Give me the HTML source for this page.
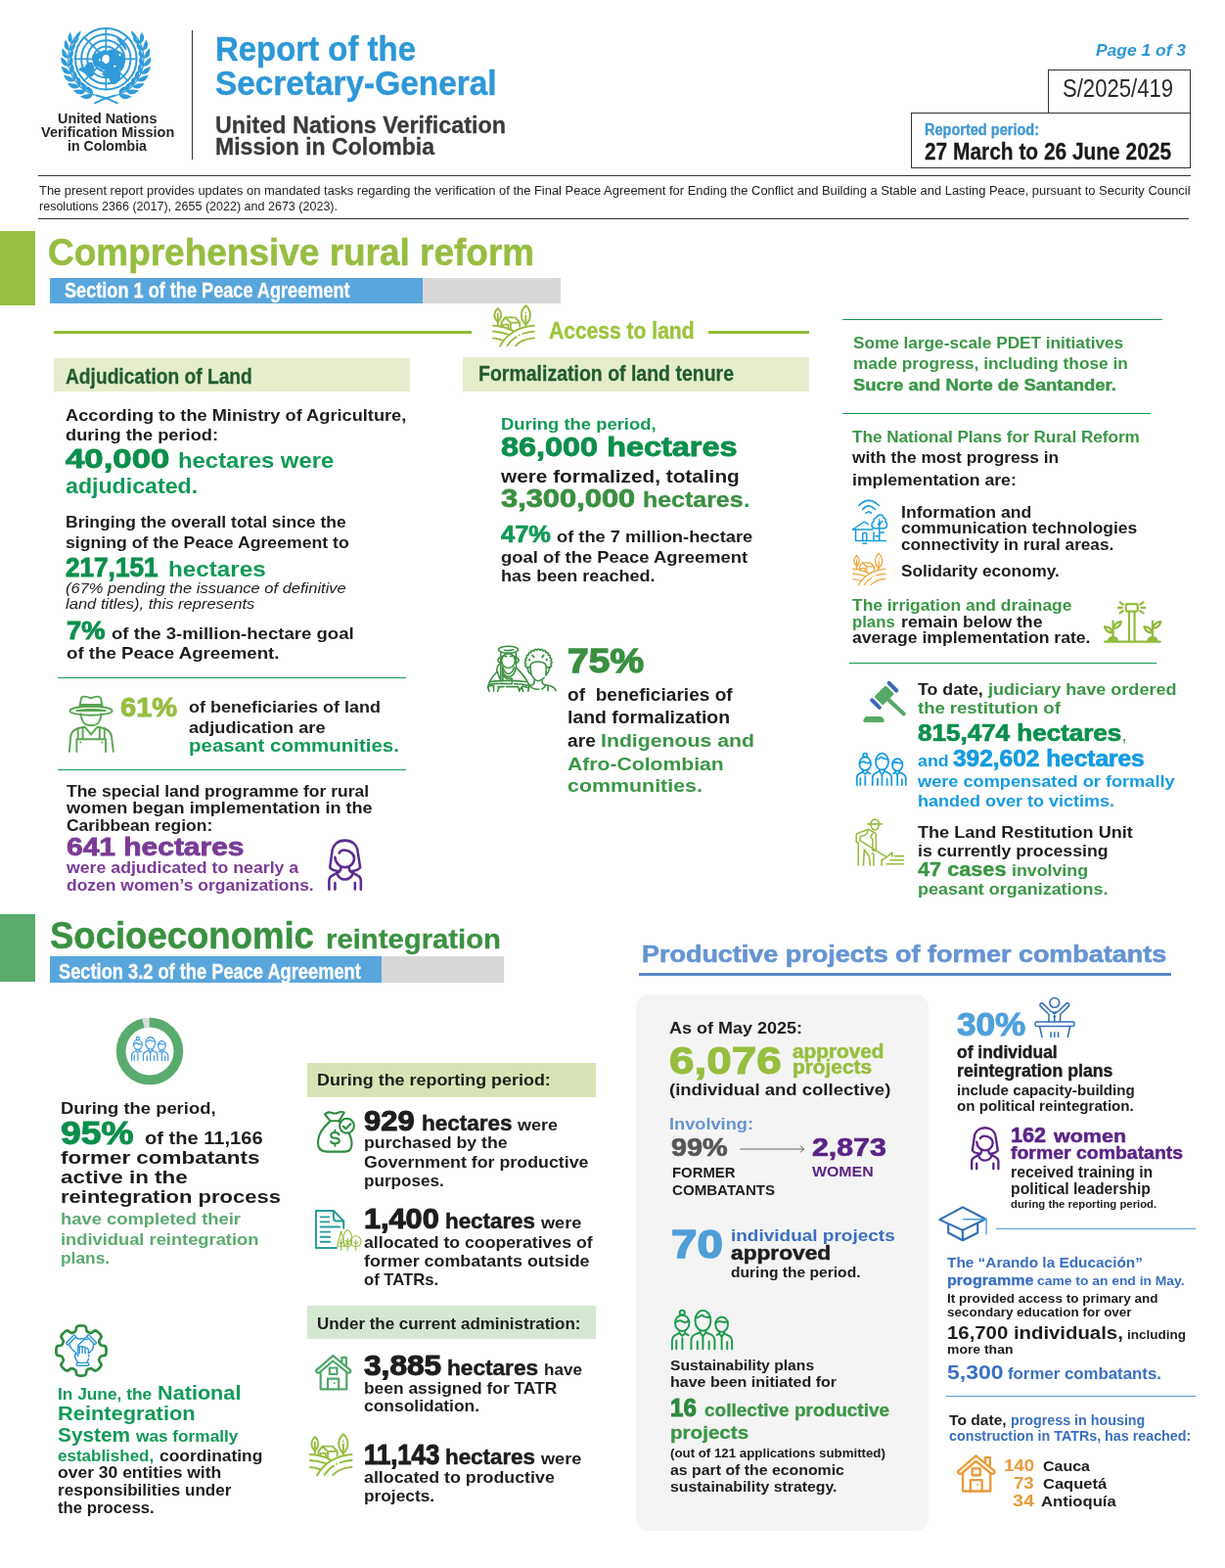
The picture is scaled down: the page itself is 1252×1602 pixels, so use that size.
<!DOCTYPE html>
<html lang="en">
<head>
<meta charset="utf-8">
<title>Report of the Secretary-General - United Nations Verification Mission in Colombia</title>
<style>
html,body{margin:0;padding:0;background:#fff;}
#page{position:relative;width:1252px;height:1602px;overflow:hidden;background:#fff;font-family:"Liberation Sans",sans-serif;}
.t{position:absolute;display:block;white-space:nowrap;line-height:1;transform-origin:0 0;font-weight:700;color:#1d1d1b;margin:0;padding:0;}
.r{position:absolute;display:block;}
.i{position:absolute;display:block;overflow:visible;}
</style>
</head>
<body>
<div id="page">
<section id="header">
<svg class="i" style="left:61px;top:27px;width:96px;height:80px;" viewBox="0 0 96 80"><circle cx="47.3" cy="33.2" r="31.3" fill="none" stroke="#2f9bd9" stroke-width="2"/><circle cx="47.3" cy="33.2" r="25.2" fill="none" stroke="#2f9bd9" stroke-width="2"/><circle cx="47.3" cy="33.2" r="19.0" fill="none" stroke="#2f9bd9" stroke-width="2"/><circle cx="47.3" cy="33.2" r="12.8" fill="none" stroke="#2f9bd9" stroke-width="2"/><circle cx="47.3" cy="33.2" r="6.6" fill="none" stroke="#2f9bd9" stroke-width="2"/><line x1="16.0" y1="33.2" x2="78.6" y2="33.2" stroke="#2f9bd9" stroke-width="1.6"/><line x1="25.2" y1="11.1" x2="69.4" y2="55.3" stroke="#2f9bd9" stroke-width="1.6"/><line x1="47.3" y1="1.9" x2="47.3" y2="64.5" stroke="#2f9bd9" stroke-width="1.6"/><line x1="69.4" y1="11.1" x2="25.2" y2="55.3" stroke="#2f9bd9" stroke-width="1.6"/><path fill="#2f9bd9" d="M33 31 Q34 27 38 27.5 Q39.5 24.5 43 25.5 Q46 23 49 25 Q52 22.5 55.5 24.5 Q59 23 61.5 26 Q66 27 65.5 31.5 Q67.5 35 65 38 Q66 42 62 43.5 Q60 46.5 56.5 45 Q54 47.5 51 45.5 Q47.5 47 45.5 44 Q41.5 44.5 40 41 Q36 40.5 35.5 37 Q32 35 33 31z"/><path fill="#fff" d="M44.5 30.5 Q46 28 48.5 29 Q51 29.5 50.5 32.5 Q51.5 35.5 49 37.5 Q46.5 39 45 36.5 Q42.5 35.5 43.5 33 Q43 31.5 44.5 30.5z"/><path fill="#fff" d="M40 33.5 q1 -0.8 1.8 0.3 q0.4 1.3 -0.8 1.7 q-1.3 -0.3 -1 -2z M55 40 q2 -0.6 3 0.6 q-1 1.2 -3 0.6z M60.5 28.5 q1.2 -1 2 0.4 q0 1.6 -1.3 1.6 q-1 -0.6 -0.7 -2z"/><path fill="#2f9bd9" d="M19.2 43.5 Q22 41 25.5 41.5 Q27 37.5 31 36.5 Q34 36 34.5 39.5 Q36.5 43 35 47 Q35.5 51 32 51.5 Q28.5 51 27 48 Q23.5 47.5 22 45.5 Q19.5 45.5 19.2 43.5z"/><path fill="#2f9bd9" d="M43.5 47.5 Q46.5 44.5 50.5 45 Q54.5 43 58.5 44 Q62.5 46.5 62 51 Q62.5 55.5 59 57.5 Q56 60 53 58.5 Q51 56 50.5 53 Q46.5 52 44.5 50 Q43 49 43.5 47.5z"/><path fill="#2f9bd9" d="M58.5 11.5 Q60.5 10.5 61.5 12.5 Q63.5 15 65.5 17 Q68 20.5 68.5 24 Q66.5 24.5 65.5 22 Q63 19 61 16.5 Q58.5 14 58.5 11.5z"/><path fill="#2f9bd9" d="M62.5 30 q2 1.5 1.6 4 q-1.4 0.6 -2.2 -1 q-0.6 -1.8 0.6 -3z"/><path fill="#2f9bd9" d="M34.10 69.47 Q29.80 77.74 20.80 71.82 Q27.00 68.09 34.10 69.47z"/><path fill="#2f9bd9" d="M60.50 69.47 Q64.80 77.74 73.80 71.82 Q67.60 68.09 60.50 69.47z"/><path fill="#2f9bd9" d="M34.10 69.47 Q34.92 61.37 25.47 61.14 Q28.23 66.92 34.10 69.47z"/><path fill="#2f9bd9" d="M60.50 69.47 Q59.68 61.37 69.13 61.14 Q66.37 66.92 60.50 69.47z"/><path fill="#2f9bd9" d="M26.99 66.02 Q21.18 73.14 13.70 65.62 Q20.42 63.27 26.99 66.02z"/><path fill="#2f9bd9" d="M67.61 66.02 Q73.42 73.14 80.90 65.62 Q74.18 63.27 67.61 66.02z"/><path fill="#2f9bd9" d="M26.99 66.02 Q29.40 58.37 20.34 56.25 Q21.84 62.38 26.99 66.02z"/><path fill="#2f9bd9" d="M67.61 66.02 Q65.20 58.37 74.26 56.25 Q72.76 62.38 67.61 66.02z"/><path fill="#2f9bd9" d="M20.73 61.20 Q13.71 66.90 8.00 58.14 Q14.95 57.23 20.73 61.20z"/><path fill="#2f9bd9" d="M73.87 61.20 Q80.89 66.90 86.60 58.14 Q79.65 57.23 73.87 61.20z"/><path fill="#2f9bd9" d="M20.73 61.20 Q24.59 54.31 16.28 50.45 Q16.49 56.65 20.73 61.20z"/><path fill="#2f9bd9" d="M73.87 61.20 Q70.01 54.31 78.32 50.45 Q78.11 56.65 73.87 61.20z"/><path fill="#2f9bd9" d="M15.58 55.20 Q7.67 59.28 3.92 49.70 Q10.81 50.21 15.58 55.20z"/><path fill="#2f9bd9" d="M79.02 55.20 Q86.93 59.28 90.68 49.70 Q83.79 50.21 79.02 55.20z"/><path fill="#2f9bd9" d="M15.58 55.20 Q20.69 49.33 13.45 43.94 Q12.41 49.97 15.58 55.20z"/><path fill="#2f9bd9" d="M79.02 55.20 Q73.91 49.33 81.15 43.94 Q82.19 49.97 79.02 55.20z"/><path fill="#2f9bd9" d="M11.77 48.28 Q3.33 50.63 1.63 40.65 Q8.17 42.52 11.77 48.28z"/><path fill="#2f9bd9" d="M82.83 48.28 Q91.27 50.63 92.97 40.65 Q86.43 42.52 82.83 48.28z"/><path fill="#2f9bd9" d="M11.77 48.28 Q17.87 43.65 11.97 37.00 Q9.76 42.61 11.77 48.28z"/><path fill="#2f9bd9" d="M82.83 48.28 Q76.73 43.65 82.63 37.00 Q84.84 42.61 82.83 48.28z"/><path fill="#2f9bd9" d="M9.44 40.73 Q0.84 41.30 1.21 31.34 Q7.13 34.46 9.44 40.73z"/><path fill="#2f9bd9" d="M85.16 40.73 Q93.76 41.30 93.39 31.34 Q87.47 34.46 85.16 40.73z"/><path fill="#2f9bd9" d="M9.44 40.73 Q16.24 37.49 11.89 29.90 Q8.65 34.86 9.44 40.73z"/><path fill="#2f9bd9" d="M85.16 40.73 Q78.36 37.49 82.71 29.90 Q85.95 34.86 85.16 40.73z"/><path fill="#2f9bd9" d="M8.70 32.86 Q0.30 31.69 2.65 22.17 Q7.73 26.36 8.70 32.86z"/><path fill="#2f9bd9" d="M85.90 32.86 Q94.30 31.69 91.95 22.17 Q86.87 26.36 85.90 32.86z"/><path fill="#2f9bd9" d="M8.70 32.86 Q15.90 31.10 13.23 22.93 Q9.11 27.05 8.70 32.86z"/><path fill="#2f9bd9" d="M85.90 32.86 Q78.70 31.10 81.37 22.93 Q85.49 27.05 85.90 32.86z"/><path fill="#2f9bd9" d="M9.58 25.01 Q1.72 22.20 5.90 13.50 Q9.94 18.55 9.58 25.01z"/><path fill="#2f9bd9" d="M85.02 25.01 Q92.88 22.20 88.70 13.50 Q84.66 18.55 85.02 25.01z"/><path fill="#2f9bd9" d="M9.58 25.01 Q16.87 24.76 15.93 16.35 Q11.14 19.49 9.58 25.01z"/><path fill="#2f9bd9" d="M85.02 25.01 Q77.73 24.76 78.67 16.35 Q83.46 19.49 85.02 25.01z"/><path fill="#2f9bd9" d="M12.04 17.50 Q5.04 13.22 10.80 5.69 Q13.68 11.35 12.04 17.50z"/><path fill="#2f9bd9" d="M82.56 17.50 Q89.56 13.22 83.80 5.69 Q80.92 11.35 82.56 17.50z"/><path fill="#2f9bd9" d="M12.04 17.50 Q19.10 18.72 19.88 10.43 Q14.64 12.50 12.04 17.50z"/><path fill="#2f9bd9" d="M82.56 17.50 Q75.50 18.72 74.72 10.43 Q79.96 12.50 82.56 17.50z"/><path fill="#2f9bd9" d="M14.57 12.75 Q21.37 12.42 21.64 4.32 Q16.76 7.41 14.57 12.75z"/><path fill="#2f9bd9" d="M80.03 12.75 Q73.23 12.42 72.96 4.32 Q77.84 7.41 80.03 12.75z"/><path fill="none" stroke="#2f9bd9" stroke-width="1.3" d="M36.66 70.30 A38.6 38.6 0 0 1 15.30 11.62"/><path fill="none" stroke="#2f9bd9" stroke-width="1.3" d="M57.94 70.30 A38.6 38.6 0 0 0 79.30 11.62"/><path fill="none" stroke="#2f9bd9" stroke-width="2" stroke-linecap="round" d="M36 78.3 Q46 73 57 70.5"/><path fill="none" stroke="#2f9bd9" stroke-width="2" stroke-linecap="round" d="M58.6 78.3 Q48.6 73 37.6 70.5"/></svg>
<span class="t" style="left:58.8px;top:113px;font-size:15.2px;color:#262626;transform:scaleX(0.9461);">United Nations</span>
<span class="t" style="left:41.5px;top:127px;font-size:15.2px;color:#262626;transform:scaleX(0.9555);">Verification Mission</span>
<span class="t" style="left:68.8px;top:141px;font-size:15.2px;color:#262626;transform:scaleX(0.932);">in Colombia</span>
<div class="r" style="left:196px;top:31px;width:1.2px;height:131.8px;background:#333;"></div>
<span class="t" style="left:220px;top:33px;font-size:34.8px;color:#2e97d7;-webkit-text-stroke:0.4px;transform:scaleX(0.9469);">Report of the</span>
<span class="t" style="left:220px;top:68px;font-size:34.8px;color:#2e97d7;-webkit-text-stroke:0.4px;transform:scaleX(0.9589);">Secretary-General</span>
<span class="t" style="left:220px;top:116px;font-size:24.2px;color:#3a3a3a;-webkit-text-stroke:0.3px;transform:scaleX(0.965);">United Nations Verification</span>
<span class="t" style="left:220px;top:138px;font-size:24.2px;color:#3a3a3a;-webkit-text-stroke:0.3px;transform:scaleX(0.9525);">Mission in Colombia</span>
<span class="t" style="left:1120px;top:43px;font-size:16.5px;color:#2e97d7;font-style:italic;transform:scaleX(1.056);">Page 1 of 3</span>
<div class="r" style="left:1071px;top:71px;width:146px;height:45px;border:1px solid #333;box-sizing:border-box;"></div>
<span class="t" style="left:1086px;top:78px;font-size:25px;color:#2a2a2a;font-weight:400;transform:scaleX(0.8835);">S/2025/419</span>
<div class="r" style="left:931px;top:115px;width:286px;height:57px;border:1px solid #333;box-sizing:border-box;"></div>
<span class="t" style="left:945px;top:125px;font-size:15.6px;color:#3f97d3;-webkit-text-stroke:0.3px;transform:scaleX(0.9313);">Reported period:</span>
<span class="t" style="left:945px;top:143px;font-size:23.8px;color:#1a1a1a;-webkit-text-stroke:0.3px;transform:scaleX(0.878);">27 March to 26 June 2025</span>
<div class="r" style="left:39px;top:179px;width:1178px;height:1px;background:#333;"></div>
<span class="t" style="left:40px;top:189px;font-size:12.3px;color:#222;font-weight:400;transform:scaleX(1.0514);">The present report provides updates on mandated tasks regarding the verification of the Final Peace Agreement for Ending the Conflict and Building a Stable and Lasting Peace, pursuant to Security Council</span>
<span class="t" style="left:40px;top:205px;font-size:12.3px;color:#222;font-weight:400;transform:scaleX(1.0186);">resolutions 2366 (2017), 2655 (2022) and 2673 (2023).</span>
<div class="r" style="left:39px;top:223px;width:1176px;height:1px;background:#333;"></div>
</section>
<section id="rural-reform">
<div class="r" style="left:0px;top:236px;width:36px;height:75.7px;background:#9abf41;"></div>
<span class="t" style="left:49.3px;top:238px;font-size:39.6px;color:#96bd40;-webkit-text-stroke:0.5px;transform:scaleX(0.9341);">Comprehensive rural reform</span>
<div class="r" style="left:51px;top:284px;width:381px;height:25.8px;background:#59a6dc;"></div>
<div class="r" style="left:432px;top:284px;width:141px;height:25.8px;background:#d8d8d8;"></div>
<span class="t" style="left:66.4px;top:287px;font-size:21.5px;color:#fff;-webkit-text-stroke:0.3px;transform:scaleX(0.8435);">Section 1 of the Peace Agreement</span>
<div class="r" style="left:54.6px;top:338px;width:427.3px;height:3px;background:#95bb38;"></div>
<div class="r" style="left:723.5px;top:338px;width:103.5px;height:3px;background:#95bb38;"></div>
<svg class="i" style="left:502.5px;top:311px;width:45px;height:43px;" viewBox="0 0 45 43"><path d="M5.8 4 C2.2 7 0.4 12.6 5.8 18 C11.2 12.6 9.4 7 5.8 4z" fill="none" stroke="#95bb38" stroke-width="1.85" stroke-linecap="round" stroke-linejoin="round" /><path d="M5.8 9.5 V21.5" fill="none" stroke="#95bb38" stroke-width="1.85" stroke-linecap="round" stroke-linejoin="round" /><path d="M34.4 1.2 C29.5 5.5 27.2 13.5 34.4 20.6 C41.6 13.5 39.3 5.5 34.4 1.2z" fill="none" stroke="#95bb38" stroke-width="1.85" stroke-linecap="round" stroke-linejoin="round" /><path d="M34.4 11.3 V21.8" fill="none" stroke="#95bb38" stroke-width="1.85" stroke-linecap="round" stroke-linejoin="round" /><circle cx="34.4" cy="8.4" r="0.95" fill="#95bb38"/><path d="M9.3 18.6 L13.4 13.4 H23.6 L28.3 18.6 H18.6 L13.4 13.4 M9.5 18.6 V22.3 M18.8 18.6 V25.3 M28.3 18.6 V22.8" fill="none" stroke="#95bb38" stroke-width="1.85" stroke-linecap="round" stroke-linejoin="round" /><path d="M11.3 23 V20.6 H16.6 V24.4" fill="none" stroke="#95bb38" stroke-width="1.5725" stroke-linecap="round" stroke-linejoin="round" /><path d="M1 21.7 Q12 22 21.3 27" fill="none" stroke="#95bb38" stroke-width="1.85" stroke-linecap="round" stroke-linejoin="round" /><path d="M43 21.7 Q19 23.5 8 42.6" fill="none" stroke="#95bb38" stroke-width="1.85" stroke-linecap="round" stroke-linejoin="round" /><path d="M1 27.6 Q9 28 16.6 30.8" fill="none" stroke="#95bb38" stroke-width="1.85" stroke-linecap="round" stroke-linejoin="round" /><path d="M1 34.6 Q6.5 35 11.6 37" fill="none" stroke="#95bb38" stroke-width="1.85" stroke-linecap="round" stroke-linejoin="round" /><path d="M31.3 30 Q37 28 43 27.7" fill="none" stroke="#95bb38" stroke-width="1.85" stroke-linecap="round" stroke-linejoin="round" /><path d="M15.5 42.3 Q19 36.5 24.7 33.2" fill="none" stroke="#95bb38" stroke-width="1.85" stroke-linecap="round" stroke-linejoin="round" /><circle cx="27.6" cy="31.4" r="0.95" fill="#95bb38"/><path d="M24 42.3 Q30 35.5 43 34.4" fill="none" stroke="#95bb38" stroke-width="1.85" stroke-linecap="round" stroke-linejoin="round" /></svg>
<span class="t" style="left:560.8px;top:326px;font-size:24px;color:#9cc43c;-webkit-text-stroke:0.4px;transform:scaleX(0.8772);">Access to land</span>
<div class="r" style="left:54.6px;top:366px;width:364.2px;height:33.6px;background:#e6edcd;"></div>
<span class="t" style="left:66.9px;top:374px;font-size:22.3px;color:#215c30;-webkit-text-stroke:0.3px;transform:scaleX(0.8605);">Adjudication of Land</span>
<span class="t" style="left:66.9px;top:416px;font-size:16.5px;transform:scaleX(1.1034);">According to the Ministry of Agriculture,</span>
<span class="t" style="left:66.9px;top:436px;font-size:16.5px;transform:scaleX(1.1052);">during the period:</span>
<span class="t" style="left:66.9px;top:455px;font-size:28px;color:#0b8f4c;-webkit-text-stroke:0.9px;transform:scaleX(1.2424);">40,000</span>
<span class="t" style="left:181.5px;top:460px;font-size:22px;color:#119a55;transform:scaleX(1.0854);">hectares were</span>
<span class="t" style="left:66.9px;top:486px;font-size:22px;color:#119a55;transform:scaleX(1.0525);">adjudicated.</span>
<span class="t" style="left:67.3px;top:525px;font-size:16.5px;transform:scaleX(1.06);">Bringing the overall total since the</span>
<span class="t" style="left:67.3px;top:546px;font-size:16.5px;transform:scaleX(1.0699);">signing of the Peace Agreement to</span>
<span class="t" style="left:67.3px;top:565px;font-size:28.5px;color:#0b8f4c;-webkit-text-stroke:0.9px;transform:scaleX(0.9172);">217,151</span>
<span class="t" style="left:171.8px;top:571px;font-size:22px;color:#119a55;transform:scaleX(1.1004);">hectares</span>
<span class="t" style="left:67.3px;top:594px;font-size:14.6px;font-weight:400;font-style:italic;transform:scaleX(1.129);">(67% pending the issuance of definitive</span>
<span class="t" style="left:67.3px;top:610px;font-size:14.6px;font-weight:400;font-style:italic;transform:scaleX(1.1348);">land titles), this represents</span>
<span class="t" style="left:68.3px;top:631px;font-size:26.5px;color:#0b8f4c;-webkit-text-stroke:0.9px;transform:scaleX(1.031);">7%</span>
<span class="t" style="left:114.3px;top:639px;font-size:16.5px;transform:scaleX(1.1257);">of the 3-million-hectare goal</span>
<span class="t" style="left:68.3px;top:659px;font-size:16.5px;transform:scaleX(1.1331);">of the Peace Agreement.</span>
<div class="r" style="left:59.3px;top:692px;width:355.9px;height:1px;background:#119a50;"></div>
<svg class="i" style="left:70px;top:711px;width:47px;height:58px;" viewBox="0 0 47 58"><path d="M11.5 10.5 L12.7 3.6 Q13.3 0.6 16 0.6 Q19.5 0.6 23 2.3 Q26.5 0.6 30 0.6 Q32.7 0.6 33.3 3.6 L34.6 10.5" fill="none" stroke="#58a650" stroke-width="1.9" stroke-linecap="round" stroke-linejoin="round" /><path d="M12 8.9 H34.1 M11.6 10.6 H34.5" fill="none" stroke="#58a650" stroke-width="1.9" stroke-linecap="round" stroke-linejoin="round" /><ellipse cx="23.05" cy="15.2" rx="21.6" ry="4.5" fill="none" stroke="#58a650" stroke-width="1.9"/><path d="M8.3 15.2 Q23 12.6 38 15.2 L8.3 15.2" fill="none" stroke="#58a650" stroke-width="1.71" stroke-linecap="round" stroke-linejoin="round" /><path d="M12.6 18.2 Q13 23 14.2 25 C17 32 29 32 31.9 25 Q33 23 33.4 18.2" fill="none" stroke="#58a650" stroke-width="1.9" stroke-linecap="round" stroke-linejoin="round" /><path d="M0.9 56.8 L2.2 41.5 C3 35 9 32.5 16.8 31.8 L23.1 39.4 L29.4 31.8 C37 32.5 43.3 35 44 41.5 L45.8 56.8" fill="none" stroke="#58a650" stroke-width="1.9" stroke-linecap="round" stroke-linejoin="round" /><path d="M9.7 33.4 V44.1 M14.6 32.2 V44.1 M31.8 32.2 V44.1 M36.8 33.4 V44.1" fill="none" stroke="#58a650" stroke-width="1.9" stroke-linecap="round" stroke-linejoin="round" /><path d="M8.4 57 V44.2 H38 V57" fill="none" stroke="#58a650" stroke-width="1.9" stroke-linecap="round" stroke-linejoin="round" /><circle cx="12.4" cy="47.2" r="1" fill="#58a650"/><circle cx="34.4" cy="47.4" r="1" fill="#58a650"/></svg>
<span class="t" style="left:123.3px;top:708px;font-size:28.5px;color:#96bd40;-webkit-text-stroke:0.9px;transform:scaleX(1.0202);">61%</span>
<span class="t" style="left:193.4px;top:714px;font-size:16.5px;transform:scaleX(1.09);">of beneficiaries of land</span>
<span class="t" style="left:193.4px;top:735px;font-size:16.5px;transform:scaleX(1.1025);">adjudication are</span>
<span class="t" style="left:193.4px;top:754px;font-size:17.5px;color:#119a55;transform:scaleX(1.1691);">peasant communities.</span>
<div class="r" style="left:59.3px;top:786px;width:355.9px;height:1px;background:#119a50;"></div>
<span class="t" style="left:68.3px;top:800px;font-size:16.2px;transform:scaleX(1.0805);">The special land programme for rural</span>
<span class="t" style="left:68.3px;top:817px;font-size:16.2px;transform:scaleX(1.1179);">women began implementation in the</span>
<span class="t" style="left:68.3px;top:835px;font-size:16.2px;transform:scaleX(1.0771);">Caribbean region:</span>
<span class="t" style="left:68.3px;top:853px;font-size:25.5px;color:#7a3b96;-webkit-text-stroke:0.8px;transform:scaleX(1.1744);">641 hectares</span>
<span class="t" style="left:68.3px;top:878px;font-size:16.5px;color:#7a3b96;transform:scaleX(1.0733);">were adjudicated to nearly a</span>
<span class="t" style="left:68.3px;top:896px;font-size:16.5px;color:#7a3b96;transform:scaleX(1.0588);">dozen women’s organizations.</span>
<svg class="i" style="left:335px;top:857px;width:35.5px;height:53.5px;" viewBox="0 0 36 54"><path d="M12 33.6 Q4 32.6 2.2 29.6 L4.4 14 C5 5.5 11 1.5 17.8 1.5 C24.6 1.5 30.6 5.5 31.2 14 L33.6 29.6 Q31.8 32.6 23.8 33.6" fill="none" stroke="#5b2d90" stroke-width="2.6" stroke-linecap="round" stroke-linejoin="round" /><path d="M11.8 14.6 Q13.5 11.5 17 11.6 C23 11.9 27.4 15.5 27.4 20 C27.4 25.5 23 29.4 17.8 29.4 C12.5 29.4 7.8 25 7.5 18.9" fill="none" stroke="#5b2d90" stroke-width="2.6" stroke-linecap="round" stroke-linejoin="round" /><path d="M13.6 29.6 Q13.6 33 11.5 34.2 L4.5 38 Q1.4 39.5 1.4 43 V52.3" fill="none" stroke="#5b2d90" stroke-width="2.6" stroke-linecap="round" stroke-linejoin="round" /><path d="M22 29.6 Q22 33 24.2 34.2 L31.2 38 Q34.3 39.5 34.3 43 V52.3" fill="none" stroke="#5b2d90" stroke-width="2.6" stroke-linecap="round" stroke-linejoin="round" /><path d="M9.3 35.5 Q12 41.9 17.8 41.9 Q23.6 41.9 26.4 35.5" fill="none" stroke="#5b2d90" stroke-width="2.6" stroke-linecap="round" stroke-linejoin="round" /><path d="M7.5 45.6 V52.2 M28.2 45.6 V52.2" fill="none" stroke="#5b2d90" stroke-width="2.6" stroke-linecap="round" stroke-linejoin="round" /></svg>
<div class="r" style="left:472.9px;top:365.4px;width:354px;height:34.2px;background:#e6edcd;"></div>
<span class="t" style="left:489.3px;top:371px;font-size:21.6px;color:#215c30;-webkit-text-stroke:0.3px;transform:scaleX(0.9027);">Formalization of land tenure</span>
<span class="t" style="left:511.5px;top:425px;font-size:16.5px;color:#119a55;transform:scaleX(1.1162);">During the period,</span>
<span class="t" style="left:511.5px;top:443px;font-size:27.8px;color:#0b8f4c;-webkit-text-stroke:0.9px;transform:scaleX(1.1661);">86,000 hectares</span>
<span class="t" style="left:511.5px;top:478px;font-size:18px;transform:scaleX(1.1552);">were formalized, totaling</span>
<span class="t" style="left:511.5px;top:497px;font-size:25.5px;color:#3a9040;-webkit-text-stroke:0.8px;transform:scaleX(1.2093);">3,300,000</span>
<span class="t" style="left:657.4px;top:501px;font-size:21.5px;color:#3a9040;-webkit-text-stroke:0.3px;transform:scaleX(1.1599);">hectares</span>
<span class="t" style="left:760.3px;top:501px;font-size:21.5px;color:#119a55;">.</span>
<span class="t" style="left:511.5px;top:535px;font-size:23px;color:#119a55;-webkit-text-stroke:0.7px;transform:scaleX(1.1054);">47%</span>
<span class="t" style="left:569.2px;top:540px;font-size:16.5px;transform:scaleX(1.1084);">of the 7 million-hectare</span>
<span class="t" style="left:511.5px;top:561px;font-size:16.5px;transform:scaleX(1.1165);">goal of the Peace Agreement</span>
<span class="t" style="left:511.5px;top:580px;font-size:16.5px;transform:scaleX(1.0946);">has been reached.</span>
<svg class="i" style="left:497.7px;top:660.3px;width:70.4px;height:46.2px;" viewBox="0 0 70 46"><ellipse cx="21.4" cy="3.8" rx="9.9" ry="3.5" fill="none" stroke="#3a9040" stroke-width="1.6"/><path d="M17.5 4.3 Q21.4 5.2 26.5 3.8" fill="none" stroke="#3a9040" stroke-width="1.6" stroke-linecap="round" stroke-linejoin="round" /><ellipse cx="21.4" cy="15" rx="6.9" ry="7.4" fill="none" stroke="#3a9040" stroke-width="1.6"/><path d="M14.5 11.3 Q16 9.6 19.5 10.6 M23.5 10.6 Q27 9.6 28.4 11.3" fill="none" stroke="#3a9040" stroke-width="1.6" stroke-linecap="round" stroke-linejoin="round" /><path d="M14.3 11.5 Q10.2 12.5 11 15.5 Q11.8 17.5 14.5 17 M28.5 11.5 Q32.6 12.5 31.8 15.5 Q31 17.5 28.3 17" fill="none" stroke="#3a9040" stroke-width="1.6" stroke-linecap="round" stroke-linejoin="round" /><path d="M13.7 7 V35.6 M29.3 7 V22 M15.6 21 L15.8 35" fill="none" stroke="#3a9040" stroke-width="1.6" stroke-linecap="round" stroke-linejoin="round" /><path d="M13.5 17.5 Q8 21 10.5 27 Q12 32 14 35.5" fill="none" stroke="#3a9040" stroke-width="1.6" stroke-linecap="round" stroke-linejoin="round" /><path d="M16 22 Q17.5 28 21.6 28.4 Q25.5 28 27 22" fill="none" stroke="#3a9040" stroke-width="1.6" stroke-linecap="round" stroke-linejoin="round" /><path d="M15.5 25.5 Q18 32.5 23.5 31 Q28 29 28.8 22.5" fill="none" stroke="#3a9040" stroke-width="1.6" stroke-linecap="round" stroke-linejoin="round" /><path d="M16.5 30.5 Q20 34.5 25 33" fill="none" stroke="#3a9040" stroke-width="1.6" stroke-linecap="round" stroke-linejoin="round" /><path d="M9.9 26.4 Q2.5 33.5 0.6 41.8 L1.8 46" fill="none" stroke="#3a9040" stroke-width="1.6" stroke-linecap="round" stroke-linejoin="round" /><path d="M29.3 22 Q38 30 42.8 40 L41.5 46" fill="none" stroke="#3a9040" stroke-width="1.6" stroke-linecap="round" stroke-linejoin="round" /><path d="M3.4 36.3 Q21 34.2 39.5 36.3 M1.8 39.2 Q12 37.5 25 38.6 M27.5 38.6 Q35 38.6 41.5 40 M25.2 33.5 V38.6" fill="none" stroke="#3a9040" stroke-width="1.6" stroke-linecap="round" stroke-linejoin="round" /><path d="M0.8 41.8 Q3 40 6 40.5 M11 41.5 H17 M19.5 41.5 H31 M36 41 Q40 41.5 42.5 43" fill="none" stroke="#3a9040" stroke-width="1.6" stroke-linecap="round" stroke-linejoin="round" /><path d="M6.5 40.5 V46 M12 41.5 L10.5 46 M31.5 41.5 L32.5 46 L35 41.5 L36.5 46" fill="none" stroke="#3a9040" stroke-width="1.6" stroke-linecap="round" stroke-linejoin="round" /><path d="M40.32 21.52 Q37.29 20.61 39.50 18.35 Q36.80 16.69 39.52 15.08 Q37.34 12.78 40.38 11.92 Q38.87 9.14 42.04 9.09 Q41.29 6.01 44.36 6.78 Q44.43 3.62 47.20 5.15 Q48.08 2.11 50.36 4.31 Q52.00 1.60 53.64 4.31 Q55.92 2.11 56.80 5.15 Q59.57 3.62 59.64 6.78 Q62.71 6.01 61.96 9.09 Q65.13 9.14 63.62 11.92 Q66.66 12.78 64.48 15.08 Q67.20 16.69 64.50 18.35 Q66.71 20.61 63.68 21.52" fill="none" stroke="#3a9040" stroke-width="1.6" stroke-linecap="round" stroke-linejoin="round" /><path d="M40 21.5 Q42 22.8 43.5 21 Q44.5 17.5 46.5 17 Q51.5 14.8 57 17 Q59 17.5 60 21 Q61.5 22.8 64 21.3" fill="none" stroke="#3a9040" stroke-width="1.6" stroke-linecap="round" stroke-linejoin="round" /><path d="M41 22 Q41.5 27 44 28.5 M63.8 21.5 Q62.5 27 59.5 30" fill="none" stroke="#3a9040" stroke-width="1.6" stroke-linecap="round" stroke-linejoin="round" /><path d="M60 21.5 L59.8 29" fill="none" stroke="#3a9040" stroke-width="1.6" stroke-linecap="round" stroke-linejoin="round" /><path d="M46 9.5 L47.3 11.3 M57.3 9.5 L56 11.3 M42.8 13.6 V14.5 M60.5 13.6 V14.5" fill="none" stroke="#3a9040" stroke-width="1.92" stroke-linecap="round" stroke-linejoin="round" /><path d="M44 21.5 Q43.8 28 46 31 Q49 35.5 52 35.6 Q55 35.5 58 32.2" fill="none" stroke="#3a9040" stroke-width="1.6" stroke-linecap="round" stroke-linejoin="round" /><path d="M47.8 35 Q48 38.8 46 39.6 L42.8 40.2 M55.8 35 Q55.6 38.6 58 39.4 L64 40.5 Q68.2 41.5 69.8 45.3" fill="none" stroke="#3a9040" stroke-width="1.6" stroke-linecap="round" stroke-linejoin="round" /><path d="M43.6 40.5 Q46 44.5 52.5 44 M55.5 43.8 Q58 42.8 59 40.2 M61.8 41 V45.6" fill="none" stroke="#3a9040" stroke-width="1.6" stroke-linecap="round" stroke-linejoin="round" /></svg>
<span class="t" style="left:579.9px;top:657px;font-size:35px;color:#3a9040;-webkit-text-stroke:1.3px;transform:scaleX(1.1147);">75%</span>
<span class="t" style="left:579.9px;top:702px;font-size:17.6px;transform:scaleX(1.0852);">of  beneficiaries of</span>
<span class="t" style="left:579.9px;top:725px;font-size:17.6px;transform:scaleX(1.1033);">land formalization</span>
<span class="t" style="left:579.9px;top:749px;font-size:17.6px;transform:scaleX(1.09);">are</span>
<span class="t" style="left:614.4px;top:748px;font-size:18.8px;color:#3a9645;transform:scaleX(1.1313);">Indigenous and</span>
<span class="t" style="left:579.9px;top:772px;font-size:18.8px;color:#3a9645;transform:scaleX(1.1255);">Afro-Colombian</span>
<span class="t" style="left:579.9px;top:794px;font-size:18.8px;color:#3a9645;transform:scaleX(1.1391);">communities.</span>
<div class="r" style="left:860.7px;top:326px;width:327.1px;height:1px;background:#119a50;"></div>
<span class="t" style="left:872.2px;top:343px;font-size:15.6px;color:#3a9645;transform:scaleX(1.1023);">Some large-scale PDET initiatives</span>
<span class="t" style="left:872.2px;top:364px;font-size:15.6px;color:#3a9645;transform:scaleX(1.1057);">made progress, including those in</span>
<span class="t" style="left:872.2px;top:386px;font-size:16px;color:#3a9645;-webkit-text-stroke:0.4px;transform:scaleX(1.1543);">Sucre and Norte de Santander.</span>
<div class="r" style="left:860.7px;top:422px;width:314.9px;height:1px;background:#119a50;"></div>
<span class="t" style="left:871.3px;top:439px;font-size:15.6px;color:#3a9645;transform:scaleX(1.0973);">The National Plans for Rural Reform</span>
<span class="t" style="left:871.3px;top:460px;font-size:15.6px;transform:scaleX(1.113);">with the most progress in</span>
<span class="t" style="left:871.3px;top:483px;font-size:15.6px;transform:scaleX(1.1325);">implementation are:</span>
<svg class="i" style="left:871.3px;top:510.6px;width:36.5px;height:44.5px;" viewBox="0 0 36.5 44.5"><path d="M6.9 5.3 Q16.9 -4.6 27.2 5.5 M10.7 9.3 Q16.9 2.5 23.4 9.3 M14.4 13.1 Q16.9 10.3 19.3 13.1" fill="none" stroke="#159be0" stroke-width="1.6500000000000001" stroke-linecap="round" stroke-linejoin="round" /><path d="M0.4 30 L12.4 22 L16.4 24.7 M0.4 30 H21" fill="none" stroke="#159be0" stroke-width="1.5" stroke-linecap="round" stroke-linejoin="round" /><path d="M3.5 30 V41.6 H34.2 M22 32.8 V41.6" fill="none" stroke="#159be0" stroke-width="1.5" stroke-linecap="round" stroke-linejoin="round" /><path d="M10.7 41.6 V35.3 A2.05 2.05 0 0 1 14.8 35.3 V41.6 M10.9 44.2 H14.6" fill="none" stroke="#159be0" stroke-width="1.5" stroke-linecap="round" stroke-linejoin="round" /><path d="M27.8 19.8 V41.6 M27.8 25.3 L30.6 21.4 M27.8 25.6 L26.3 24.4 M28.2 33 H32.3 M24 36.8 H27.6" fill="none" stroke="#159be0" stroke-width="1.5" stroke-linecap="round" stroke-linejoin="round" /><path d="M22.5 28.8 Q19.6 28 20 24.8 Q20.2 22.6 22 22 Q21.5 18.6 24.6 18 Q25.8 14.6 28.6 15 Q31.4 14.8 32 18 Q35 19 34 22.2 Q36 23.4 35.4 26 Q35 28.6 32.5 28.8 Z" fill="none" stroke="#159be0" stroke-width="1.5" stroke-linecap="round" stroke-linejoin="round" /></svg>
<span class="t" style="left:920.6px;top:516px;font-size:15.6px;transform:scaleX(1.1313);">Information and</span>
<span class="t" style="left:920.6px;top:532px;font-size:15.6px;transform:scaleX(1.118);">communication technologies</span>
<span class="t" style="left:920.6px;top:549px;font-size:15.6px;transform:scaleX(1.0991);">connectivity in rural areas.</span>
<svg class="i" style="left:871px;top:564px;width:35.5px;height:34.5px;" viewBox="0 0 45 43"><path d="M5.8 4 C2.2 7 0.4 12.6 5.8 18 C11.2 12.6 9.4 7 5.8 4z" fill="none" stroke="#f0a336" stroke-width="1.6" stroke-linecap="round" stroke-linejoin="round" /><path d="M5.8 9.5 V21.5" fill="none" stroke="#f0a336" stroke-width="1.6" stroke-linecap="round" stroke-linejoin="round" /><path d="M34.4 1.2 C29.5 5.5 27.2 13.5 34.4 20.6 C41.6 13.5 39.3 5.5 34.4 1.2z" fill="none" stroke="#f0a336" stroke-width="1.6" stroke-linecap="round" stroke-linejoin="round" /><path d="M34.4 11.3 V21.8" fill="none" stroke="#f0a336" stroke-width="1.6" stroke-linecap="round" stroke-linejoin="round" /><circle cx="34.4" cy="8.4" r="0.95" fill="#f0a336"/><path d="M9.3 18.6 L13.4 13.4 H23.6 L28.3 18.6 H18.6 L13.4 13.4 M9.5 18.6 V22.3 M18.8 18.6 V25.3 M28.3 18.6 V22.8" fill="none" stroke="#f0a336" stroke-width="1.6" stroke-linecap="round" stroke-linejoin="round" /><path d="M11.3 23 V20.6 H16.6 V24.4" fill="none" stroke="#f0a336" stroke-width="1.36" stroke-linecap="round" stroke-linejoin="round" /><path d="M1 21.7 Q12 22 21.3 27" fill="none" stroke="#f0a336" stroke-width="1.6" stroke-linecap="round" stroke-linejoin="round" /><path d="M43 21.7 Q19 23.5 8 42.6" fill="none" stroke="#f0a336" stroke-width="1.6" stroke-linecap="round" stroke-linejoin="round" /><path d="M1 27.6 Q9 28 16.6 30.8" fill="none" stroke="#f0a336" stroke-width="1.6" stroke-linecap="round" stroke-linejoin="round" /><path d="M1 34.6 Q6.5 35 11.6 37" fill="none" stroke="#f0a336" stroke-width="1.6" stroke-linecap="round" stroke-linejoin="round" /><path d="M31.3 30 Q37 28 43 27.7" fill="none" stroke="#f0a336" stroke-width="1.6" stroke-linecap="round" stroke-linejoin="round" /><path d="M15.5 42.3 Q19 36.5 24.7 33.2" fill="none" stroke="#f0a336" stroke-width="1.6" stroke-linecap="round" stroke-linejoin="round" /><circle cx="27.6" cy="31.4" r="0.95" fill="#f0a336"/><path d="M24 42.3 Q30 35.5 43 34.4" fill="none" stroke="#f0a336" stroke-width="1.6" stroke-linecap="round" stroke-linejoin="round" /></svg>
<span class="t" style="left:920.6px;top:576px;font-size:15.6px;transform:scaleX(1.1011);">Solidarity economy.</span>
<span class="t" style="left:871.3px;top:611px;font-size:15.6px;color:#3a9645;transform:scaleX(1.1163);">The irrigation and drainage</span>
<span class="t" style="left:871.3px;top:628px;font-size:15.6px;color:#3a9645;transform:scaleX(1.0728);">plans</span>
<span class="t" style="left:920.6px;top:628px;font-size:15.6px;transform:scaleX(1.1343);">remain below the</span>
<span class="t" style="left:871.3px;top:644px;font-size:15.6px;transform:scaleX(1.1284);">average implementation rate.</span>
<svg class="i" style="left:1128.3px;top:614px;width:59px;height:43.3px;" viewBox="0 0 60 44"><path d="M1 42.3 H58.8" fill="none" stroke="#92bb3c" stroke-width="2.2" stroke-linecap="round" stroke-linejoin="round" /><path d="M26.4 11.3 V42 M32.1 11.3 V42" fill="none" stroke="#92bb3c" stroke-width="2.2" stroke-linecap="round" stroke-linejoin="round" /><rect x="23.1" y="3.1" width="12.2" height="7.7" rx="1.3" fill="none" stroke="#92bb3c" stroke-width="2.2"/><path d="M16.9 1.3 L20.3 3.7 M15.2 7 H19.2 M16.9 12.5 L20.3 10.2 M37.9 3.7 L41.3 1.3 M39.3 7 H43 M37.9 10.2 L41.3 12.5" fill="none" stroke="#92bb3c" stroke-width="2.2" stroke-linecap="round" stroke-linejoin="round" /><path d="M9.7 21 V36.5" fill="none" stroke="#92bb3c" stroke-width="2.2" stroke-linecap="round" stroke-linejoin="round" /><path d="M9.7 28.5 Q12.2 21.5 18.2 21.5 Q16.7 28 9.7 28.5z" fill="none" stroke="#92bb3c" stroke-width="2.2" stroke-linecap="round" stroke-linejoin="round" /><path d="M9.7 33.2 Q7.2 26.5 1.0 26.8 Q2.7 33 9.7 33.2z" fill="none" stroke="#92bb3c" stroke-width="2.2" stroke-linecap="round" stroke-linejoin="round" /><path d="M3.7 42.3 A5.9 5.9 0 0 1 15.7 42.3z" fill="#92bb3c"/><path d="M50.8 21 V36.5" fill="none" stroke="#92bb3c" stroke-width="2.2" stroke-linecap="round" stroke-linejoin="round" /><path d="M50.8 28.5 Q53.3 21.5 59.3 21.5 Q57.8 28 50.8 28.5z" fill="none" stroke="#92bb3c" stroke-width="2.2" stroke-linecap="round" stroke-linejoin="round" /><path d="M50.8 33.2 Q48.3 26.5 42.1 26.8 Q43.8 33 50.8 33.2z" fill="none" stroke="#92bb3c" stroke-width="2.2" stroke-linecap="round" stroke-linejoin="round" /><path d="M44.8 42.3 A5.9 5.9 0 0 1 56.8 42.3z" fill="#92bb3c"/></svg>
<div class="r" style="left:868px;top:677px;width:314.2px;height:1px;background:#119a50;"></div>
<svg class="i" style="left:882px;top:694.5px;width:44.5px;height:43.5px;" viewBox="0 0 44.5 43.5"><path d="M2.5 37.4 Q3 36.9 4 36.9 H17.6 Q18.7 36.9 19.2 37.4 L21.5 40 Q22.3 43 19.8 43 H2.2 Q-0.4 43 0.6 40z" fill="#57a866"/><g transform="translate(21.7 15.4) rotate(-45)"><rect x="-8.3" y="-6.3" width="16.6" height="12.6" rx="1.6" fill="#57a866"/><rect x="-14.3" y="-7.4" width="4" height="14.8" rx="2" fill="#3a68b4"/><rect x="10.3" y="-7.4" width="4" height="14.8" rx="2" fill="#3a68b4"/></g><path d="M25.5 19.2 L41.6 34.2" stroke="#57a866" stroke-width="4.2" stroke-linecap="round" fill="none"/></svg>
<span class="t" style="left:937.7px;top:697px;font-size:15.8px;transform:scaleX(1.1248);">To date,</span>
<span class="t" style="left:1009.5px;top:697px;font-size:15.8px;color:#3a9645;transform:scaleX(1.1419);">judiciary have ordered</span>
<span class="t" style="left:937.7px;top:716px;font-size:15.8px;color:#3a9645;transform:scaleX(1.1701);">the restitution of</span>
<span class="t" style="left:937.7px;top:738px;font-size:23px;color:#0b8f4c;-webkit-text-stroke:0.7px;transform:scaleX(1.1311);">815,474 hectares</span>
<span class="t" style="left:1146.5px;top:742px;font-size:18px;color:#3a9645;font-weight:400;">,</span>
<svg class="i" style="left:875.2px;top:768.6px;width:52px;height:33px;" viewBox="0 0 52 33"><circle cx="9.2" cy="2.6" r="2.1" fill="none" stroke="#159be0" stroke-width="1.75"/><ellipse cx="9.2" cy="11.3" rx="5.9" ry="6.8" fill="none" stroke="#159be0" stroke-width="1.75"/><path d="M4 10.5 Q7 8 9.5 10 Q12 11.5 14.6 9.3" fill="none" stroke="#159be0" stroke-width="1.75" stroke-linecap="round" stroke-linejoin="round" /><path d="M0.7 33 V26 Q0.9 22 5 20.6 L7 19.6 V18 M11.4 18 V19.6 L14.3 21.4 M7 19.8 L9.2 22 L11.4 19.8" fill="none" stroke="#159be0" stroke-width="1.75" stroke-linecap="round" stroke-linejoin="round" /><path d="M4.3 26 V33 M9.3 24 V33" fill="none" stroke="#159be0" stroke-width="1.75" stroke-linecap="round" stroke-linejoin="round" /><ellipse cx="26.5" cy="9.2" rx="6.5" ry="8.5" fill="none" stroke="#159be0" stroke-width="1.75"/><path d="M20.5 7 Q24 6.5 25.5 4.5 Q28 7 32.5 6.5" fill="none" stroke="#159be0" stroke-width="1.75" stroke-linecap="round" stroke-linejoin="round" /><path d="M16.7 33 V25.5 Q17 21.5 21 20.3 L24 19 V17.3 M29 17.3 V19 L32 20.3 Q36 21.5 36.3 25.5 V33" fill="none" stroke="#159be0" stroke-width="1.75" stroke-linecap="round" stroke-linejoin="round" /><path d="M24 19.2 L26.5 22.3 L29 19.2 M26.5 22.3 V33 M21.9 26.5 V33 M31.6 26.5 V33" fill="none" stroke="#159be0" stroke-width="1.75" stroke-linecap="round" stroke-linejoin="round" /><ellipse cx="42.2" cy="12.4" rx="5.2" ry="6.3" fill="none" stroke="#159be0" stroke-width="1.75"/><path d="M37.2 11 Q40 9 42 10.2 Q45 11 47.2 10" fill="none" stroke="#159be0" stroke-width="1.75" stroke-linecap="round" stroke-linejoin="round" /><path d="M40.2 18.4 V20 L38.2 21.3 M44.2 18.4 V20 L47.5 21.5 Q50.7 22.8 50.8 26.5 V33 M40.2 20.2 L42.2 22.5 L44.2 20.2" fill="none" stroke="#159be0" stroke-width="1.75" stroke-linecap="round" stroke-linejoin="round" /><path d="M42.2 22.5 V33 M46.8 27 V33" fill="none" stroke="#159be0" stroke-width="1.75" stroke-linecap="round" stroke-linejoin="round" /></svg>
<span class="t" style="left:937.7px;top:769px;font-size:16.5px;color:#159be0;transform:scaleX(1.0769);">and</span>
<span class="t" style="left:974.3px;top:764px;font-size:23px;color:#159be0;-webkit-text-stroke:0.7px;transform:scaleX(1.0627);">392,602 hectares</span>
<span class="t" style="left:937.7px;top:791px;font-size:15.8px;color:#159be0;transform:scaleX(1.1504);">were compensated or formally</span>
<span class="t" style="left:937.7px;top:811px;font-size:15.8px;color:#159be0;transform:scaleX(1.1397);">handed over to victims.</span>
<svg class="i" style="left:875.2px;top:836.7px;width:48.7px;height:47.7px;" viewBox="0 0 48.7 47.7"><path d="M12 4.85 H26.3 M15 4.85 A4.2 4.75 0 0 1 23.4 4.85" fill="none" stroke="#96bd40" stroke-width="1.6" stroke-linecap="round" stroke-linejoin="round" /><path d="M15 4.85 A4.2 6.2 0 0 0 23.4 4.85" fill="none" stroke="#96bd40" stroke-width="1.6" stroke-linecap="round" stroke-linejoin="round" /><path d="M12.5 10.3 L1.2 14.6 Q0.2 15 0.2 16.2 V22.4 Q0.3 24 2 24.4" fill="none" stroke="#96bd40" stroke-width="1.6" stroke-linecap="round" stroke-linejoin="round" /><path d="M11.9 10.9 Q11.6 14.8 9.6 15.9 L4.9 17.5 Q4 17.9 4 19 L3.9 22.3" fill="none" stroke="#96bd40" stroke-width="1.6" stroke-linecap="round" stroke-linejoin="round" /><path d="M13.2 10.6 L19.6 14.2 Q20.4 14.7 20.4 15.8 V31.3 Q18.6 33.4 16.8 31.2 V20.2 L14.8 18.25 L16.8 14.7" fill="none" stroke="#96bd40" stroke-width="1.6" stroke-linecap="round" stroke-linejoin="round" /><path d="M4.6 22.1 L31.1 38.7 M31.1 38.7 L36.8 34.1 V37.7 M31.1 38.7 L26.6 41.5 Q26 41.9 26 42.8 V46.9" fill="none" stroke="#96bd40" stroke-width="1.6" stroke-linecap="round" stroke-linejoin="round" /><path d="M2.25 24.4 V46.9 M8.4 31 L7.4 46.9 M8.4 31 L13 37.5 Q13.4 38.2 13.5 39 L14.3 46.9 M16.3 34.9 Q17.9 35 17.9 36.5 V46.9" fill="none" stroke="#96bd40" stroke-width="1.6" stroke-linecap="round" stroke-linejoin="round" /><path d="M39.3 37.6 H48.5 M35.2 41.7 H48.5 M31.1 45.8 H48.5" fill="none" stroke="#96bd40" stroke-width="1.6" stroke-linecap="round" stroke-linejoin="round" /></svg>
<span class="t" style="left:937.7px;top:843px;font-size:16px;transform:scaleX(1.1292);">The Land Restitution Unit</span>
<span class="t" style="left:937.7px;top:862px;font-size:16px;transform:scaleX(1.1047);">is currently processing</span>
<span class="t" style="left:937.7px;top:879px;font-size:19.5px;color:#3a9645;-webkit-text-stroke:0.4px;transform:scaleX(1.1126);">47 cases</span>
<span class="t" style="left:1033.5px;top:881px;font-size:16.5px;color:#3a9645;transform:scaleX(1.077);">involving</span>
<span class="t" style="left:937.7px;top:900px;font-size:16.5px;color:#3a9645;transform:scaleX(1.0878);">peasant organizations.</span>
</section>
<section id="socioeconomic-reintegration">
<div class="r" style="left:0px;top:934.3px;width:36px;height:68.7px;background:#5aab6e;"></div>
<span class="t" style="left:51.1px;top:937px;font-size:38px;color:#3a9140;-webkit-text-stroke:0.5px;transform:scaleX(0.961);">Socioeconomic</span>
<span class="t" style="left:333.3px;top:945px;font-size:28.5px;color:#3a9140;-webkit-text-stroke:0.3px;transform:scaleX(1.0276);">reintegration</span>
<div class="r" style="left:51px;top:977px;width:338.6px;height:26.8px;background:#59a6dc;"></div>
<div class="r" style="left:389.6px;top:977px;width:125.2px;height:26.8px;background:#d8d8d8;"></div>
<span class="t" style="left:60.3px;top:982px;font-size:21.2px;color:#fff;-webkit-text-stroke:0.3px;transform:scaleX(0.8617);">Section 3.2 of the Peace Agreement</span>
<svg class="i" style="left:117.7px;top:1039.3px;width:70px;height:70px;" viewBox="0 0 70 70"><circle cx="35" cy="35" r="29.35" fill="none" stroke="#5aab6e" stroke-width="9.7"/><path d="M28.40 6.40 A29.35 29.35 0 0 1 34.74 5.65" fill="none" stroke="#dcdcdc" stroke-width="10"/></svg>
<svg class="i" style="left:133.6px;top:1059.3px;width:38.3px;height:24.6px;" viewBox="0 0 51.5 33.2"><circle cx="9.2" cy="2.6" r="2.1" fill="none" stroke="#4a9fe0" stroke-width="1.75"/><ellipse cx="9.2" cy="11.3" rx="5.9" ry="6.8" fill="none" stroke="#4a9fe0" stroke-width="1.75"/><path d="M4 10.5 Q7 8 9.5 10 Q12 11.5 14.6 9.3" fill="none" stroke="#4a9fe0" stroke-width="1.75" stroke-linecap="round" stroke-linejoin="round" /><path d="M0.7 33 V26 Q0.9 22 5 20.6 L7 19.6 V18 M11.4 18 V19.6 L14.3 21.4 M7 19.8 L9.2 22 L11.4 19.8" fill="none" stroke="#4a9fe0" stroke-width="1.75" stroke-linecap="round" stroke-linejoin="round" /><path d="M4.3 26 V33 M9.3 24 V33" fill="none" stroke="#4a9fe0" stroke-width="1.75" stroke-linecap="round" stroke-linejoin="round" /><ellipse cx="26.5" cy="9.2" rx="6.5" ry="8.5" fill="none" stroke="#4a9fe0" stroke-width="1.75"/><path d="M20.5 7 Q24 6.5 25.5 4.5 Q28 7 32.5 6.5" fill="none" stroke="#4a9fe0" stroke-width="1.75" stroke-linecap="round" stroke-linejoin="round" /><path d="M16.7 33 V25.5 Q17 21.5 21 20.3 L24 19 V17.3 M29 17.3 V19 L32 20.3 Q36 21.5 36.3 25.5 V33" fill="none" stroke="#4a9fe0" stroke-width="1.75" stroke-linecap="round" stroke-linejoin="round" /><path d="M24 19.2 L26.5 22.3 L29 19.2 M26.5 22.3 V33 M21.9 26.5 V33 M31.6 26.5 V33" fill="none" stroke="#4a9fe0" stroke-width="1.75" stroke-linecap="round" stroke-linejoin="round" /><ellipse cx="42.2" cy="12.4" rx="5.2" ry="6.3" fill="none" stroke="#4a9fe0" stroke-width="1.75"/><path d="M37.2 11 Q40 9 42 10.2 Q45 11 47.2 10" fill="none" stroke="#4a9fe0" stroke-width="1.75" stroke-linecap="round" stroke-linejoin="round" /><path d="M40.2 18.4 V20 L38.2 21.3 M44.2 18.4 V20 L47.5 21.5 Q50.7 22.8 50.8 26.5 V33 M40.2 20.2 L42.2 22.5 L44.2 20.2" fill="none" stroke="#4a9fe0" stroke-width="1.75" stroke-linecap="round" stroke-linejoin="round" /><path d="M42.2 22.5 V33 M46.8 27 V33" fill="none" stroke="#4a9fe0" stroke-width="1.75" stroke-linecap="round" stroke-linejoin="round" /></svg>
<span class="t" style="left:62.4px;top:1125px;font-size:16px;transform:scaleX(1.1504);">During the period,</span>
<span class="t" style="left:62.4px;top:1142px;font-size:32.5px;color:#0b8f4c;-webkit-text-stroke:1px;transform:scaleX(1.1466);">95%</span>
<span class="t" style="left:148.3px;top:1153px;font-size:19px;transform:scaleX(1.0573);">of the 11,166</span>
<span class="t" style="left:62.4px;top:1173px;font-size:19px;transform:scaleX(1.1818);">former combatants</span>
<span class="t" style="left:62.4px;top:1193px;font-size:19px;transform:scaleX(1.1818);">active in the</span>
<span class="t" style="left:62.4px;top:1213px;font-size:19px;transform:scaleX(1.1576);">reintegration process</span>
<span class="t" style="left:62.4px;top:1238px;font-size:16px;color:#5aab6e;transform:scaleX(1.1497);">have completed their</span>
<span class="t" style="left:62.4px;top:1259px;font-size:16px;color:#5aab6e;transform:scaleX(1.1441);">individual reintegration</span>
<span class="t" style="left:62.4px;top:1278px;font-size:16px;color:#5aab6e;transform:scaleX(1.0836);">plans.</span>
<svg class="i" style="left:55.9px;top:1353px;width:54px;height:54px;" viewBox="0 0 54 54"><path d="M20.22 7.86 Q21.58 7.44 21.76 5.49 L21.90 4.10 Q22.12 1.87 24.55 1.52 A25.60 25.60 0 0 1 29.45 1.52 Q31.88 1.87 32.10 4.10 L32.24 5.49 Q32.42 7.44 33.78 7.86 A20.30 20.30 0 0 1 35.74 8.68 Q37.00 9.33 38.51 8.09 L39.59 7.20 Q41.32 5.78 43.28 7.25 A25.60 25.60 0 0 1 46.75 10.72 Q48.22 12.68 46.80 14.41 L45.91 15.49 Q44.67 17.00 45.32 18.26 A20.30 20.30 0 0 1 46.14 20.22 Q46.56 21.58 48.51 21.76 L49.90 21.90 Q52.13 22.12 52.48 24.55 A25.60 25.60 0 0 1 52.48 29.45 Q52.13 31.88 49.90 32.10 L48.51 32.24 Q46.56 32.42 46.14 33.78 A20.30 20.30 0 0 1 45.32 35.74 Q44.67 37.00 45.91 38.51 L46.80 39.59 Q48.22 41.32 46.75 43.28 A25.60 25.60 0 0 1 43.28 46.75 Q41.32 48.22 39.59 46.80 L38.51 45.91 Q37.00 44.67 35.74 45.32 A20.30 20.30 0 0 1 33.78 46.14 Q32.42 46.56 32.24 48.51 L32.10 49.90 Q31.88 52.13 29.45 52.48 A25.60 25.60 0 0 1 24.55 52.48 Q22.12 52.13 21.90 49.90 L21.76 48.51 Q21.58 46.56 20.22 46.14 A20.30 20.30 0 0 1 18.26 45.32 Q17.00 44.67 15.49 45.91 L14.41 46.80 Q12.68 48.22 10.72 46.75 A25.60 25.60 0 0 1 7.25 43.28 Q5.78 41.32 7.20 39.59 L8.09 38.51 Q9.33 37.00 8.68 35.74 A20.30 20.30 0 0 1 7.86 33.78 Q7.44 32.42 5.49 32.24 L4.10 32.10 Q1.87 31.88 1.52 29.45 A25.60 25.60 0 0 1 1.52 24.55 Q1.87 22.12 4.10 21.90 L5.49 21.76 Q7.44 21.58 7.86 20.22 A20.30 20.30 0 0 1 8.68 18.26 Q9.33 17.00 8.09 15.49 L7.20 14.41 Q5.78 12.68 7.25 10.72 A25.60 25.60 0 0 1 10.72 7.25 Q12.68 5.78 14.41 7.20 L15.49 8.09 Q17.00 9.33 18.26 8.68Z" fill="none" stroke="#2e8b3d" stroke-width="2.7" stroke-linecap="round" stroke-linejoin="round" /><g fill="none" stroke="#2a96d8" stroke-width="1.4" stroke-linejoin="round" stroke-linecap="round"><rect x="-6" y="-1.35" width="12" height="2.7" rx="0.8" transform="translate(16.6 16) rotate(-46)"/><rect x="-6" y="-1.35" width="12" height="2.7" rx="0.8" transform="translate(37.7 15.7) rotate(45)"/><path d="M14.8 20.8 Q16 24.5 18 26 L22.5 29.8 M21.6 13.4 Q24 15.5 27.5 14.8 Q30 15 32.4 13.2"/><path d="M39.3 20.6 Q39.8 23.5 38 26.5 L35 29.2 M29.5 16 L23.8 21.5 V32.5 M29.5 16 Q31 15 33 15.5"/><path d="M25.2 23.5 V29.8 M25.2 23.5 Q26.6 21.6 28.1 23.3 V29.6 M28.1 23.3 Q29.6 22.3 31 24 V29.6 M31 24.4 Q32.8 23.6 34.4 25.8 V29.8 M23.6 22.6 Q24.2 21.8 25.2 23.5"/><path d="M22.4 29.8 Q19.8 30.5 20.6 33.6 Q21.8 36 23.6 38.8 M34.8 31.4 V33 M34.6 35 L33.2 38.8"/><rect x="22.2" y="39.4" width="12.6" height="2.9" rx="1.2"/></g></svg>
<span class="t" style="left:58.8px;top:1417px;font-size:16px;color:#119a55;transform:scaleX(1.0809);">In June, the</span>
<span class="t" style="left:161px;top:1413px;font-size:20px;color:#119a55;transform:scaleX(1.0823);">National</span>
<span class="t" style="left:58.8px;top:1434px;font-size:20px;color:#119a55;transform:scaleX(1.0907);">Reintegration</span>
<span class="t" style="left:58.8px;top:1456px;font-size:20px;color:#119a55;transform:scaleX(1.0414);">System</span>
<span class="t" style="left:139px;top:1460px;font-size:16px;color:#119a55;transform:scaleX(1.077);">was formally</span>
<span class="t" style="left:58.8px;top:1480px;font-size:16px;color:#119a55;transform:scaleX(1.0618);">established,</span>
<span class="t" style="left:162.6px;top:1480px;font-size:16px;transform:scaleX(1.0868);">coordinating</span>
<span class="t" style="left:58.8px;top:1497px;font-size:16px;transform:scaleX(1.0933);">over 30 entities with</span>
<span class="t" style="left:58.8px;top:1515px;font-size:16px;transform:scaleX(1.067);">responsibilities under</span>
<span class="t" style="left:58.8px;top:1533px;font-size:16px;transform:scaleX(1.047);">the process.</span>
<div class="r" style="left:313.9px;top:1086.3px;width:295px;height:34.7px;background:#d7e4b3;"></div>
<span class="t" style="left:323.6px;top:1096px;font-size:15.8px;transform:scaleX(1.1338);">During the reporting period:</span>
<svg class="i" style="left:324px;top:1135px;width:39px;height:43px;" viewBox="0 0 39 43"><path d="M8.1 3.4 Q11 0.6 14.5 1.7 Q18 3.4 21.5 1.7 Q25 0.2 27.7 1.7 L22.6 10.2 H13.3 Z" fill="none" stroke="#2e8b3d" stroke-width="2.1" stroke-linecap="round" stroke-linejoin="round" /><path d="M13.3 10.6 C6 17 0.9 25 0.9 32 C0.9 38.5 4 41.6 10 41.6 H28.5 C34 41.6 35.8 38 35.5 32 C35.3 28.5 34 25.5 32.8 23.3 M22.6 10.6 L24 11.8" fill="none" stroke="#2e8b3d" stroke-width="2.1" stroke-linecap="round" stroke-linejoin="round" /><circle cx="30.5" cy="15.2" r="7.4" fill="none" stroke="#2e8b3d" stroke-width="2.1"/><path d="M26.8 15.7 L29.4 18.3 L34.4 13.2" fill="none" stroke="#2e8b3d" stroke-width="2.1" stroke-linecap="round" stroke-linejoin="round" /><path d="M22.4 24.3 Q21.5 22 18.4 22 Q14.3 22 14.3 24.9 Q14.3 27.7 18.4 27.7 Q22.8 27.7 22.8 30.6 Q22.8 33.4 18.4 33.4 Q15 33.4 14 31.3 M18.4 19.9 V22 M18.4 33.4 V35.8" fill="none" stroke="#2e8b3d" stroke-width="2.1" stroke-linecap="round" stroke-linejoin="round" /></svg>
<span class="t" style="left:371.7px;top:1130px;font-size:30px;-webkit-text-stroke:1.1px;transform:scaleX(1.0307);">929</span>
<span class="t" style="left:431px;top:1138px;font-size:21.5px;-webkit-text-stroke:0.5px;transform:scaleX(1.0458);">hectares</span>
<span class="t" style="left:528.6px;top:1141px;font-size:16.3px;transform:scaleX(1.1017);">were</span>
<span class="t" style="left:371.7px;top:1159px;font-size:16.3px;transform:scaleX(1.0882);">purchased by the</span>
<span class="t" style="left:371.7px;top:1179px;font-size:16.3px;transform:scaleX(1.0934);">Government for productive</span>
<span class="t" style="left:371.7px;top:1198px;font-size:16.3px;transform:scaleX(1.0512);">purposes.</span>
<svg class="i" style="left:322px;top:1236px;width:48px;height:42px;" viewBox="0 0 48 42"><path d="M22 38.9 H0.95 V0.9 H18.9 L29.2 11.6 V18.8" fill="none" stroke="#2a9a9a" stroke-width="2.0" stroke-linecap="round" stroke-linejoin="round" /><path d="M18.9 0.9 V8.5 Q18.9 11.6 22 11.6 H29.2" fill="none" stroke="#2a9a9a" stroke-width="2.0" stroke-linecap="round" stroke-linejoin="round" /><path d="M5.6 7.4 H14.2 M5.6 12.4 H14.2 M5.6 17.5 H25 M5.6 22.6 H15.2 M5.6 27.7 H15.2 M5.6 32.7 H15.2" fill="none" stroke="#2a9a9a" stroke-width="1.9" stroke-linecap="round" stroke-linejoin="round" /><path d="M26.6 21.9 L22.5 37.3 H30.4 Z M26.6 30 V41.4 M25 33.5 L26.6 35 L28.2 33.5" fill="none" stroke="#94bd3e" stroke-width="1.1" stroke-linecap="round" stroke-linejoin="round" /><path d="M33.3 20.4 C27.5 23 27.5 37.5 33.3 37.8 C39.1 37.5 39.1 23 33.3 20.4z M33.3 29 V41.4 M31.3 31.5 L33.3 33.5 L35.3 31.5 M31.8 34.5 L33.3 36 L34.8 34.5" fill="none" stroke="#94bd3e" stroke-width="1.1" stroke-linecap="round" stroke-linejoin="round" /><circle cx="41.7" cy="32.2" r="5.4" fill="none" stroke="#94bd3e" stroke-width="1.1"/><path d="M41.7 31 V41.4 M39.8 33.2 L41.7 35 L43.6 33.2" fill="none" stroke="#94bd3e" stroke-width="1.1" stroke-linecap="round" stroke-linejoin="round" /></svg>
<span class="t" style="left:371.7px;top:1230px;font-size:30px;-webkit-text-stroke:1.1px;transform:scaleX(1.0216);">1,400</span>
<span class="t" style="left:455px;top:1238px;font-size:21.5px;-webkit-text-stroke:0.5px;transform:scaleX(1.0401);">hectares</span>
<span class="t" style="left:553.2px;top:1241px;font-size:16.3px;transform:scaleX(1.1152);">were</span>
<span class="t" style="left:371.7px;top:1261px;font-size:16.3px;transform:scaleX(1.0848);">allocated to cooperatives of</span>
<span class="t" style="left:371.7px;top:1280px;font-size:16.3px;transform:scaleX(1.0982);">former combatants outside</span>
<span class="t" style="left:371.7px;top:1299px;font-size:16.3px;transform:scaleX(1.0232);">of TATRs.</span>
<div class="r" style="left:313.9px;top:1334.3px;width:295px;height:33.7px;background:#d5e6d2;"></div>
<span class="t" style="left:323.6px;top:1345px;font-size:15.8px;transform:scaleX(1.0732);">Under the current administration:</span>
<svg class="i" style="left:322px;top:1384px;width:37.5px;height:36.5px;" viewBox="0 0 37.5 36.5"><path d="M1.4 15.8 L18.3 1.2 L36.2 15.8 Q37 17.8 35 18.6 Q33.6 18.9 32.8 18.1 L18.3 6.5 L4.6 18.1 Q3.6 18.9 2.3 18.5 Q0.6 17.6 1.4 15.8z" fill="none" stroke="#4fa868" stroke-width="2.2" stroke-linecap="round" stroke-linejoin="round" /><path d="M5.7 18 V35.3 H32.3 V18" fill="none" stroke="#4fa868" stroke-width="2.2" stroke-linecap="round" stroke-linejoin="round" /><path d="M27.4 7.6 V2.9 H31.9 V11.3" fill="none" stroke="#4fa868" stroke-width="2.2" stroke-linecap="round" stroke-linejoin="round" /><path d="M14.8 13.5 H22.4 V20 H14.8 Z" fill="none" stroke="#4fa868" stroke-width="2.2" stroke-linecap="round" stroke-linejoin="round" /><path d="M13 35.3 V24.6 H24.2 V35.3" fill="none" stroke="#4fa868" stroke-width="2.2" stroke-linecap="round" stroke-linejoin="round" /><circle cx="19.8" cy="29.2" r="0.9" fill="#4fa868"/></svg>
<span class="t" style="left:371.7px;top:1380px;font-size:30px;-webkit-text-stroke:1.1px;transform:scaleX(1.0549);">3,885</span>
<span class="t" style="left:456.5px;top:1388px;font-size:21.5px;-webkit-text-stroke:0.5px;transform:scaleX(1.0525);">hectares</span>
<span class="t" style="left:555.7px;top:1391px;font-size:16.3px;transform:scaleX(1.0478);">have</span>
<span class="t" style="left:371.7px;top:1410px;font-size:16.3px;transform:scaleX(1.0674);">been assigned for TATR</span>
<span class="t" style="left:371.7px;top:1428px;font-size:16.3px;transform:scaleX(1.0701);">consolidation.</span>
<svg class="i" style="left:316.3px;top:1464px;width:45.6px;height:43.6px;" viewBox="0 0 45 43"><path d="M5.8 4 C2.2 7 0.4 12.6 5.8 18 C11.2 12.6 9.4 7 5.8 4z" fill="none" stroke="#94bd3e" stroke-width="1.9" stroke-linecap="round" stroke-linejoin="round" /><path d="M5.8 9.5 V21.5" fill="none" stroke="#94bd3e" stroke-width="1.9" stroke-linecap="round" stroke-linejoin="round" /><path d="M34.4 1.2 C29.5 5.5 27.2 13.5 34.4 20.6 C41.6 13.5 39.3 5.5 34.4 1.2z" fill="none" stroke="#94bd3e" stroke-width="1.9" stroke-linecap="round" stroke-linejoin="round" /><path d="M34.4 11.3 V21.8" fill="none" stroke="#94bd3e" stroke-width="1.9" stroke-linecap="round" stroke-linejoin="round" /><circle cx="34.4" cy="8.4" r="0.95" fill="#94bd3e"/><path d="M9.3 18.6 L13.4 13.4 H23.6 L28.3 18.6 H18.6 L13.4 13.4 M9.5 18.6 V22.3 M18.8 18.6 V25.3 M28.3 18.6 V22.8" fill="none" stroke="#94bd3e" stroke-width="1.9" stroke-linecap="round" stroke-linejoin="round" /><path d="M11.3 23 V20.6 H16.6 V24.4" fill="none" stroke="#94bd3e" stroke-width="1.615" stroke-linecap="round" stroke-linejoin="round" /><path d="M1 21.7 Q12 22 21.3 27" fill="none" stroke="#94bd3e" stroke-width="1.9" stroke-linecap="round" stroke-linejoin="round" /><path d="M43 21.7 Q19 23.5 8 42.6" fill="none" stroke="#94bd3e" stroke-width="1.9" stroke-linecap="round" stroke-linejoin="round" /><path d="M1 27.6 Q9 28 16.6 30.8" fill="none" stroke="#94bd3e" stroke-width="1.9" stroke-linecap="round" stroke-linejoin="round" /><path d="M1 34.6 Q6.5 35 11.6 37" fill="none" stroke="#94bd3e" stroke-width="1.9" stroke-linecap="round" stroke-linejoin="round" /><path d="M31.3 30 Q37 28 43 27.7" fill="none" stroke="#94bd3e" stroke-width="1.9" stroke-linecap="round" stroke-linejoin="round" /><path d="M15.5 42.3 Q19 36.5 24.7 33.2" fill="none" stroke="#94bd3e" stroke-width="1.9" stroke-linecap="round" stroke-linejoin="round" /><circle cx="27.6" cy="31.4" r="0.95" fill="#94bd3e"/><path d="M24 42.3 Q30 35.5 43 34.4" fill="none" stroke="#94bd3e" stroke-width="1.9" stroke-linecap="round" stroke-linejoin="round" /></svg>
<span class="t" style="left:371.7px;top:1471px;font-size:30px;-webkit-text-stroke:1.1px;transform:scaleX(0.8567);">11,143</span>
<span class="t" style="left:455px;top:1479px;font-size:21.5px;-webkit-text-stroke:0.5px;transform:scaleX(1.0401);">hectares</span>
<span class="t" style="left:553.2px;top:1482px;font-size:16.3px;transform:scaleX(1.1152);">were</span>
<span class="t" style="left:371.7px;top:1501px;font-size:16.3px;transform:scaleX(1.0929);">allocated to productive</span>
<span class="t" style="left:371.7px;top:1520px;font-size:16.3px;transform:scaleX(1.0622);">projects.</span>
<span class="t" style="left:656.1px;top:963px;font-size:24.5px;color:#6694d2;-webkit-text-stroke:0.6px;transform:scaleX(1.1001);">Productive projects of former combatants</span>
<div class="r" style="left:653px;top:994px;width:544.2px;height:3px;background:#5787c5;"></div>
<div class="r" style="left:650px;top:1016px;width:299px;height:547.6px;background:#f4f4f4;border-radius:13px;"></div>
<span class="t" style="left:684px;top:1042px;font-size:16.3px;transform:scaleX(1.1042);">As of May 2025:</span>
<span class="t" style="left:684px;top:1064px;font-size:39px;color:#97be3f;-webkit-text-stroke:1.1px;transform:scaleX(1.1761);">6,076</span>
<span class="t" style="left:809.6px;top:1065px;font-size:19.5px;color:#97be3f;-webkit-text-stroke:0.5px;transform:scaleX(1.064);">approved</span>
<span class="t" style="left:809.6px;top:1081px;font-size:19.5px;color:#97be3f;-webkit-text-stroke:0.5px;transform:scaleX(1.0691);">projects</span>
<span class="t" style="left:684px;top:1105px;font-size:17.3px;transform:scaleX(1.0712);">(individual and collective)</span>
<span class="t" style="left:684px;top:1140px;font-size:16.3px;color:#6694d2;transform:scaleX(1.1185);">Involving:</span>
<span class="t" style="left:686.4px;top:1160px;font-size:25px;color:#575757;-webkit-text-stroke:0.7px;transform:scaleX(1.1529);">99%</span>
<svg class="i" style="left:756px;top:1169px;width:67px;height:10px;" viewBox="0 0 67 10"><path d="M0.3 5 H65.5 M61.8 1.6 L65.8 5 L61.8 8.4" fill="none" stroke="#555" stroke-width="0.9"/></svg>
<span class="t" style="left:829.6px;top:1160px;font-size:25.5px;color:#5b2487;-webkit-text-stroke:0.7px;transform:scaleX(1.1879);">2,873</span>
<span class="t" style="left:687.4px;top:1191px;font-size:14.3px;transform:scaleX(1.0411);">FORMER</span>
<span class="t" style="left:687.4px;top:1209px;font-size:14.3px;transform:scaleX(1.0558);">COMBATANTS</span>
<span class="t" style="left:829.6px;top:1190px;font-size:14.3px;color:#5b2487;transform:scaleX(1.1101);">WOMEN</span>
<span class="t" style="left:686.4px;top:1251px;font-size:41px;color:#4f9fd8;-webkit-text-stroke:1.6px;transform:scaleX(1.1577);">70</span>
<span class="t" style="left:746.5px;top:1254px;font-size:17.3px;color:#3a6fc0;transform:scaleX(1.0983);">individual projects</span>
<span class="t" style="left:746.5px;top:1270px;font-size:20.5px;-webkit-text-stroke:0.5px;transform:scaleX(1.1075);">approved</span>
<span class="t" style="left:746.5px;top:1292px;font-size:15.3px;transform:scaleX(1.019);">during the period.</span>
<svg class="i" style="left:686.1px;top:1338.2px;width:63px;height:40.6px;" viewBox="0 0 51.5 33.2"><circle cx="9.2" cy="2.6" r="2.1" fill="none" stroke="#1a9a4a" stroke-width="1.6"/><ellipse cx="9.2" cy="11.3" rx="5.9" ry="6.8" fill="none" stroke="#1a9a4a" stroke-width="1.6"/><path d="M4 10.5 Q7 8 9.5 10 Q12 11.5 14.6 9.3" fill="none" stroke="#1a9a4a" stroke-width="1.6" stroke-linecap="round" stroke-linejoin="round" /><path d="M0.7 33 V26 Q0.9 22 5 20.6 L7 19.6 V18 M11.4 18 V19.6 L14.3 21.4 M7 19.8 L9.2 22 L11.4 19.8" fill="none" stroke="#1a9a4a" stroke-width="1.6" stroke-linecap="round" stroke-linejoin="round" /><path d="M4.3 26 V33 M9.3 24 V33" fill="none" stroke="#1a9a4a" stroke-width="1.6" stroke-linecap="round" stroke-linejoin="round" /><ellipse cx="26.5" cy="9.2" rx="6.5" ry="8.5" fill="none" stroke="#1a9a4a" stroke-width="1.6"/><path d="M20.5 7 Q24 6.5 25.5 4.5 Q28 7 32.5 6.5" fill="none" stroke="#1a9a4a" stroke-width="1.6" stroke-linecap="round" stroke-linejoin="round" /><path d="M16.7 33 V25.5 Q17 21.5 21 20.3 L24 19 V17.3 M29 17.3 V19 L32 20.3 Q36 21.5 36.3 25.5 V33" fill="none" stroke="#1a9a4a" stroke-width="1.6" stroke-linecap="round" stroke-linejoin="round" /><path d="M24 19.2 L26.5 22.3 L29 19.2 M26.5 22.3 V33 M21.9 26.5 V33 M31.6 26.5 V33" fill="none" stroke="#1a9a4a" stroke-width="1.6" stroke-linecap="round" stroke-linejoin="round" /><ellipse cx="42.2" cy="12.4" rx="5.2" ry="6.3" fill="none" stroke="#1a9a4a" stroke-width="1.6"/><path d="M37.2 11 Q40 9 42 10.2 Q45 11 47.2 10" fill="none" stroke="#1a9a4a" stroke-width="1.6" stroke-linecap="round" stroke-linejoin="round" /><path d="M40.2 18.4 V20 L38.2 21.3 M44.2 18.4 V20 L47.5 21.5 Q50.7 22.8 50.8 26.5 V33 M40.2 20.2 L42.2 22.5 L44.2 20.2" fill="none" stroke="#1a9a4a" stroke-width="1.6" stroke-linecap="round" stroke-linejoin="round" /><path d="M42.2 22.5 V33 M46.8 27 V33" fill="none" stroke="#1a9a4a" stroke-width="1.6" stroke-linecap="round" stroke-linejoin="round" /></svg>
<span class="t" style="left:685px;top:1388px;font-size:14.8px;transform:scaleX(1.0585);">Sustainability plans</span>
<span class="t" style="left:685px;top:1405px;font-size:14.8px;transform:scaleX(1.0831);">have been initiated for</span>
<span class="t" style="left:685px;top:1426px;font-size:25.5px;color:#2e8b3d;-webkit-text-stroke:1px;transform:scaleX(0.9445);">16</span>
<span class="t" style="left:719.7px;top:1432px;font-size:18.2px;color:#3a9645;-webkit-text-stroke:0.3px;transform:scaleX(1.0451);">collective productive</span>
<span class="t" style="left:685px;top:1455px;font-size:18.2px;color:#3a9645;-webkit-text-stroke:0.3px;transform:scaleX(1.1319);">projects</span>
<span class="t" style="left:685px;top:1479px;font-size:12.6px;transform:scaleX(1.0546);">(out of 121 applications submitted)</span>
<span class="t" style="left:685px;top:1495px;font-size:14.8px;transform:scaleX(1.0711);">as part of the economic</span>
<span class="t" style="left:685px;top:1512px;font-size:14.8px;transform:scaleX(1.0705);">sustainability strategy.</span>
<span class="t" style="left:978.1px;top:1030px;font-size:33px;color:#4ea0db;-webkit-text-stroke:1px;transform:scaleX(1.0641);">30%</span>
<svg class="i" style="left:1057px;top:1019px;width:42px;height:41px;" viewBox="0 0 42 41"><circle cx="20.8" cy="5.4" r="4.9" fill="none" stroke="#2f6db8" stroke-width="1.5"/><path d="M15 24.5 V17.5 L6 8.6 Q5.4 7 7 6 Q8.3 5.6 9 6.4 L16.4 13.8 Q20.8 16.5 25.2 13.8 L32.6 6.4 Q33.3 5.6 34.6 6 Q36.2 7 35.6 8.6 L26.6 17.5 V24.5" fill="none" stroke="#2f6db8" stroke-width="1.5" stroke-linecap="round" stroke-linejoin="round" /><path d="M19 15.4 L20.8 16.8 L22.6 15.4 M20.8 20.5 V24.5" fill="none" stroke="#2f6db8" stroke-width="1.5" stroke-linecap="round" stroke-linejoin="round" /><circle cx="20.8" cy="19.4" r="1.3" fill="#2f6db8"/><rect x="1" y="25" width="40" height="4.4" rx="1.6" fill="none" stroke="#2f6db8" stroke-width="1.5"/><path d="M5.6 30 L8 40.6 M36.6 30 L34.2 40.6" fill="none" stroke="#2f6db8" stroke-width="1.5" stroke-linecap="round" stroke-linejoin="round" /><path d="M17 35.8 V40.6 M20.8 35.8 V40.6 M24.6 35.8 V40.6" fill="none" stroke="#2f6db8" stroke-width="1.5" stroke-linecap="round" stroke-linejoin="round" /></svg>
<span class="t" style="left:978.2px;top:1067px;font-size:17.5px;-webkit-text-stroke:0.4px;transform:scaleX(0.9965);">of individual</span>
<span class="t" style="left:978.2px;top:1086px;font-size:17.5px;-webkit-text-stroke:0.4px;transform:scaleX(1.0119);">reintegration plans</span>
<span class="t" style="left:978.2px;top:1107px;font-size:14.6px;transform:scaleX(1.0379);">include capacity-building</span>
<span class="t" style="left:978.2px;top:1123px;font-size:14.6px;transform:scaleX(1.0371);">on political reintegration.</span>
<svg class="i" style="left:991.5px;top:1151.3px;width:29.8px;height:44.7px;" viewBox="0 0 36 54"><path d="M12 33.6 Q4 32.6 2.2 29.6 L4.4 14 C5 5.5 11 1.5 17.8 1.5 C24.6 1.5 30.6 5.5 31.2 14 L33.6 29.6 Q31.8 32.6 23.8 33.6" fill="none" stroke="#5b2487" stroke-width="2.8" stroke-linecap="round" stroke-linejoin="round" /><path d="M11.8 14.6 Q13.5 11.5 17 11.6 C23 11.9 27.4 15.5 27.4 20 C27.4 25.5 23 29.4 17.8 29.4 C12.5 29.4 7.8 25 7.5 18.9" fill="none" stroke="#5b2487" stroke-width="2.8" stroke-linecap="round" stroke-linejoin="round" /><path d="M13.6 29.6 Q13.6 33 11.5 34.2 L4.5 38 Q1.4 39.5 1.4 43 V52.3" fill="none" stroke="#5b2487" stroke-width="2.8" stroke-linecap="round" stroke-linejoin="round" /><path d="M22 29.6 Q22 33 24.2 34.2 L31.2 38 Q34.3 39.5 34.3 43 V52.3" fill="none" stroke="#5b2487" stroke-width="2.8" stroke-linecap="round" stroke-linejoin="round" /><path d="M9.3 35.5 Q12 41.9 17.8 41.9 Q23.6 41.9 26.4 35.5" fill="none" stroke="#5b2487" stroke-width="2.8" stroke-linecap="round" stroke-linejoin="round" /><path d="M7.5 45.6 V52.2 M28.2 45.6 V52.2" fill="none" stroke="#5b2487" stroke-width="2.8" stroke-linecap="round" stroke-linejoin="round" /></svg>
<span class="t" style="left:1032.9px;top:1149px;font-size:22px;color:#5b2487;-webkit-text-stroke:0.6px;transform:scaleX(0.9831);">162</span>
<span class="t" style="left:1077.3px;top:1151px;font-size:19px;color:#5b2487;-webkit-text-stroke:0.5px;transform:scaleX(1.1306);">women</span>
<span class="t" style="left:1033.3px;top:1169px;font-size:18.5px;color:#5b2487;-webkit-text-stroke:0.5px;transform:scaleX(1.0509);">former combatants</span>
<span class="t" style="left:1033.3px;top:1190px;font-size:15.6px;transform:scaleX(1.0161);">received training in</span>
<span class="t" style="left:1033.3px;top:1207px;font-size:15.6px;transform:scaleX(1.0117);">political leadership</span>
<span class="t" style="left:1033.3px;top:1224px;font-size:11.6px;transform:scaleX(0.9774);">during the reporting period.</span>
<svg class="i" style="left:959px;top:1232px;width:50px;height:37px;" viewBox="0 0 50 37"><path d="M1.3 14.1 L24.9 1.4 L48.3 13.5 L24.9 24.9 Z" fill="none" stroke="#2f6db8" stroke-width="2.1" stroke-linecap="round" stroke-linejoin="round" stroke-linejoin="miter"/><path d="M10.2 19.2 V27.5 L24.9 35.2 L40.2 27.5 V18.5 M24.9 24.9 V35.2" fill="none" stroke="#2f6db8" stroke-width="2.1" stroke-linecap="round" stroke-linejoin="round" /><path d="M25.5 13.8 H49.1 V28.8" fill="none" stroke="#4f9fd8" stroke-width="1.4" stroke-linecap="round" stroke-linejoin="round" /></svg>
<div class="r" style="left:1018px;top:1255px;width:203.6px;height:1px;background:#4f9fd8;"></div>
<span class="t" style="left:967.5px;top:1283px;font-size:14.6px;color:#3a6fc0;transform:scaleX(1.0535);">The “Arando la Educación”</span>
<span class="t" style="left:967.5px;top:1301px;font-size:14.8px;color:#3a6fc0;-webkit-text-stroke:0.3px;transform:scaleX(1.0859);">programme</span>
<span class="t" style="left:1060.3px;top:1302px;font-size:13.6px;color:#3a6fc0;transform:scaleX(1.0189);">came to an end in May.</span>
<span class="t" style="left:967.5px;top:1321px;font-size:12.6px;transform:scaleX(1.0728);">It provided access to primary and</span>
<span class="t" style="left:967.5px;top:1335px;font-size:12.6px;transform:scaleX(1.0693);">secondary education for over</span>
<span class="t" style="left:967.5px;top:1352px;font-size:19.2px;transform:scaleX(1.0603);">16,700 individuals,</span>
<span class="t" style="left:1151.7px;top:1357px;font-size:13.2px;transform:scaleX(1.0254);">including</span>
<span class="t" style="left:967.5px;top:1372px;font-size:13.2px;transform:scaleX(1.0573);">more than</span>
<span class="t" style="left:967.5px;top:1392px;font-size:20.5px;color:#3a6fc0;transform:scaleX(1.1225);">5,300</span>
<span class="t" style="left:1029.5px;top:1396px;font-size:15.6px;color:#3a6fc0;transform:scaleX(1.0778);">former combatants.</span>
<div class="r" style="left:966.5px;top:1426px;width:255.1px;height:1px;background:#4f9fd8;"></div>
<span class="t" style="left:969.9px;top:1444px;font-size:14.3px;transform:scaleX(1.0921);">To date,</span>
<span class="t" style="left:1032.5px;top:1444px;font-size:14.3px;color:#3a6fc0;transform:scaleX(0.9991);">progress in housing</span>
<span class="t" style="left:969.9px;top:1460px;font-size:14.3px;color:#3a6fc0;transform:scaleX(0.9999);">construction in TATRs, has reached:</span>
<svg class="i" style="left:977.8px;top:1486px;width:39.8px;height:38.8px;" viewBox="0 0 37.5 36.5"><path d="M1.4 15.8 L18.3 1.2 L36.2 15.8 Q37 17.8 35 18.6 Q33.6 18.9 32.8 18.1 L18.3 6.5 L4.6 18.1 Q3.6 18.9 2.3 18.5 Q0.6 17.6 1.4 15.8z" fill="none" stroke="#ea9a38" stroke-width="2.2" stroke-linecap="round" stroke-linejoin="round" /><path d="M5.7 18 V35.3 H32.3 V18" fill="none" stroke="#ea9a38" stroke-width="2.2" stroke-linecap="round" stroke-linejoin="round" /><path d="M27.4 7.6 V2.9 H31.9 V11.3" fill="none" stroke="#ea9a38" stroke-width="2.2" stroke-linecap="round" stroke-linejoin="round" /><path d="M14.8 13.5 H22.4 V20 H14.8 Z" fill="none" stroke="#ea9a38" stroke-width="2.2" stroke-linecap="round" stroke-linejoin="round" /><path d="M13 35.3 V24.6 H24.2 V35.3" fill="none" stroke="#ea9a38" stroke-width="2.2" stroke-linecap="round" stroke-linejoin="round" /><circle cx="19.8" cy="29.2" r="0.9" fill="#ea9a38"/></svg>
<span class="t" style="left:1025.5px;top:1489px;font-size:17px;color:#ea9a38;transform:scaleX(1.096);">140</span>
<span class="t" style="left:1065.8px;top:1491px;font-size:14.8px;transform:scaleX(1.0783);">Cauca</span>
<span class="t" style="left:1035.9px;top:1507px;font-size:17px;color:#ea9a38;transform:scaleX(1.094);">73</span>
<span class="t" style="left:1065.8px;top:1509px;font-size:14.8px;transform:scaleX(1.1149);">Caquetá</span>
<span class="t" style="left:1035.1px;top:1525px;font-size:17px;color:#ea9a38;transform:scaleX(1.1627);">34</span>
<span class="t" style="left:1063.5px;top:1527px;font-size:14.8px;transform:scaleX(1.1241);">Antioquía</span>
</section>
</div>
</body>
</html>
